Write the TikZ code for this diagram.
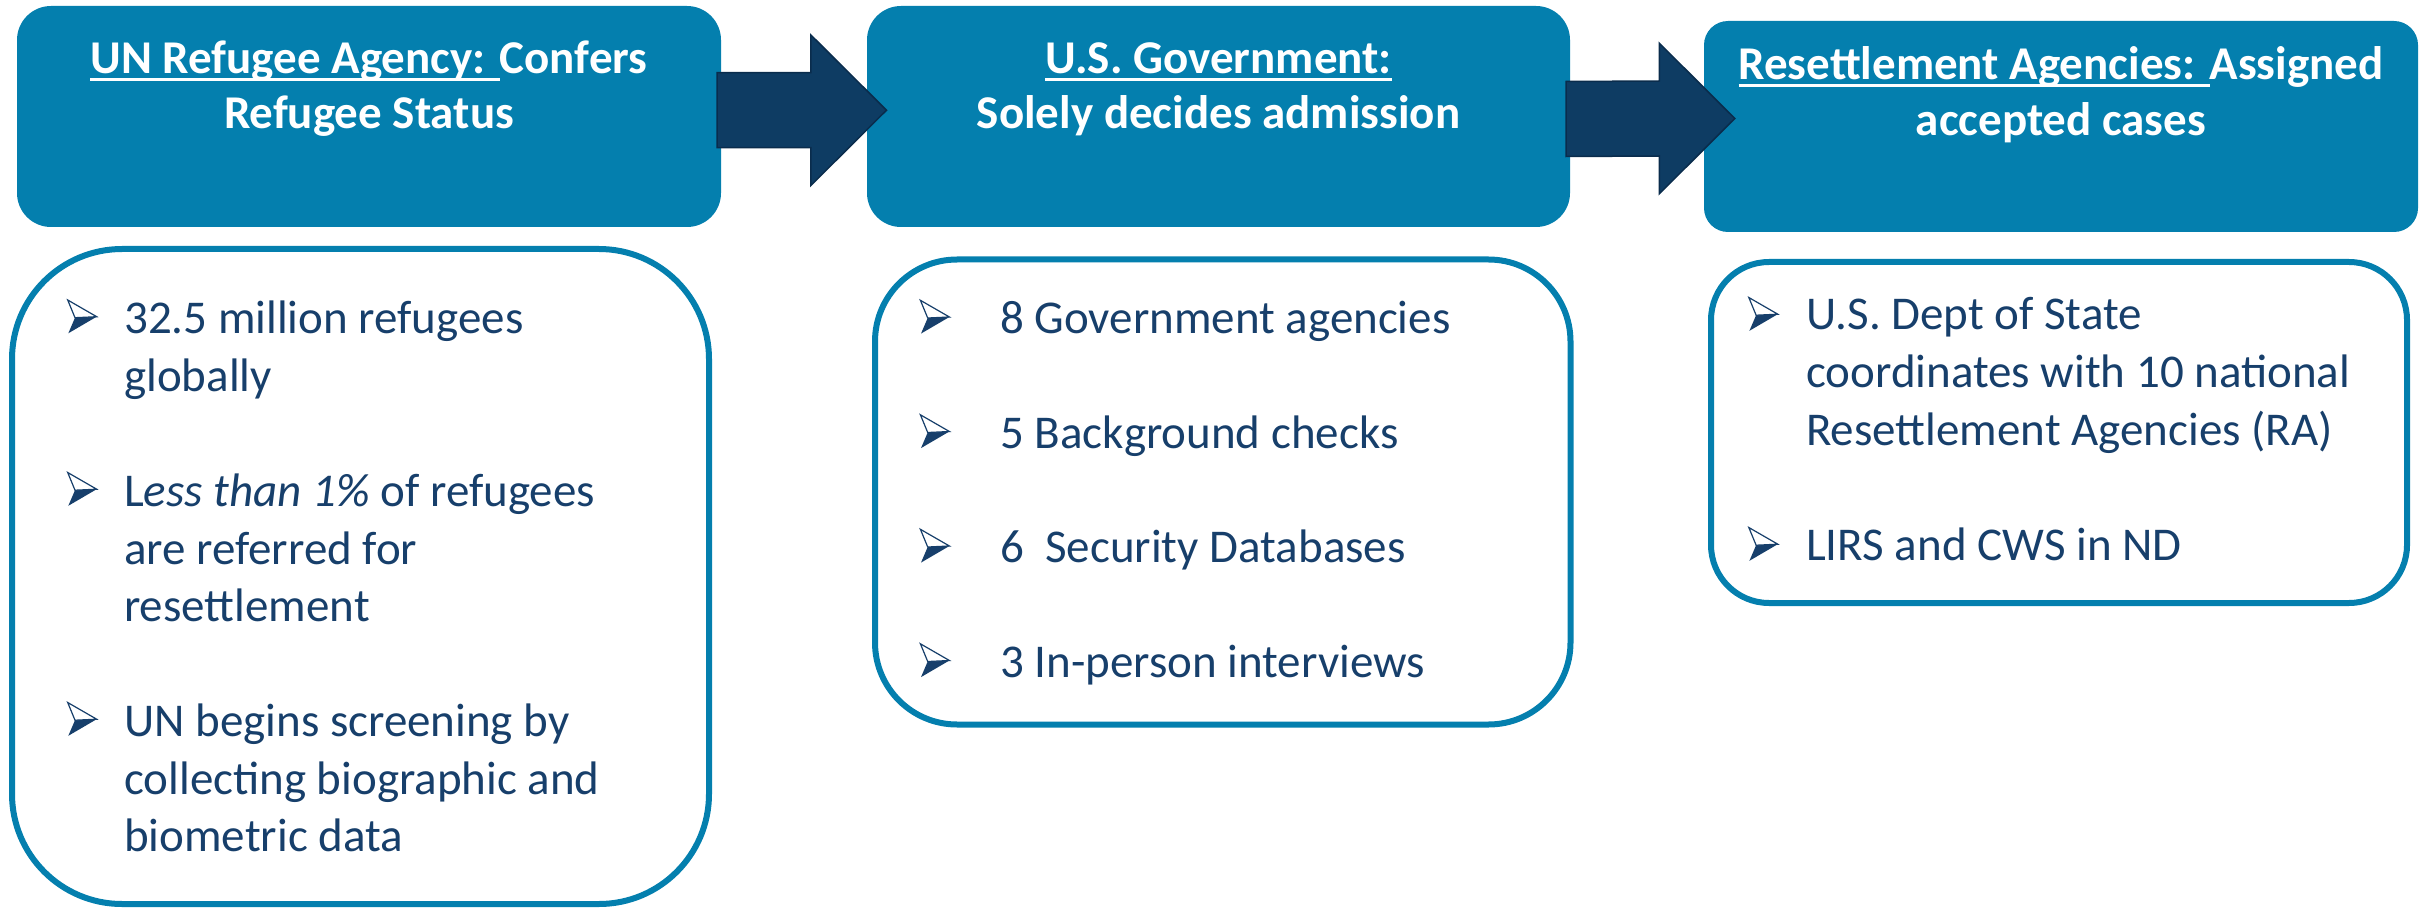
\documentclass[tikz,border=0pt]{standalone}
\usepackage{fontspec}
\setmainfont{Carlito}
\usetikzlibrary{calc}
\definecolor{hdrblue}{RGB}{4,127,174}
\definecolor{navy}{RGB}{14,60,99}
\definecolor{navyedge}{RGB}{10,44,76}
\definecolor{txtnavy}{RGB}{23,63,107}
\newsavebox\myulbox
\newcommand\myul[1]{\sbox\myulbox{#1}\rlap{\rule[-7.5pt]{\wd\myulbox}{3pt}}\usebox\myulbox}
\begin{document}
\begin{tikzpicture}[x=1pt,y=-1pt,
  header/.style={fill=hdrblue, draw=none, inner sep=0pt},
  bodybox/.style={draw=hdrblue, line width=6pt, fill=white, inner sep=0pt},
  htext/.style={text=white, font=\fontsize{47}{55}\selectfont\bfseries, inner sep=0pt, anchor=base},
  btext/.style={text=txtnavy, font=\fontsize{47}{57.5}\selectfont, inner sep=0pt, anchor=base west},
  blockarrow/.style={fill=navy, draw=navyedge, line width=1.5pt, line join=miter},
  bul/.pic={
    \fill[txtnavy] (7.3,17.7) -- (29,16.7) -- (0.6,33.3) -- cycle;
    \draw[txtnavy, line width=1.2pt, fill=white, line join=miter] (0,0) -- (29,16.7) -- (7.3,17.7) -- cycle;
  }]
\useasboundingbox (0,0) rectangle (2428,909);

% header boxes
\node[header, rounded corners=34pt, minimum width=704pt, minimum height=221pt] (h1) at (369,116.5) {};
\node[header, rounded corners=34pt, minimum width=703pt, minimum height=221pt] (h2) at (1218.5,116.5) {};
\node[header, rounded corners=24pt, minimum width=714pt, minimum height=211pt] (h3) at (2061,126.5) {};

% body boxes
\node[bodybox, rounded corners=110pt, minimum width=697pt, minimum height=655pt] (b1) at (360.5,576.5) {};
\node[bodybox, rounded corners=82pt, minimum width=695.5pt, minimum height=465pt] (b2) at (1222.75,492) {};
\node[bodybox, rounded corners=58pt, minimum width=696pt, minimum height=341pt] (b3) at (2059,432.5) {};

% header texts
\node[htext] (h1a) at (369,74) {\myul{UN Refugee Agency: }Confers};
\node[htext] (h1b) at (369,129) {Refugee Status};
\node[htext] (h2a) at (1218.5,74) {\myul{U.S. Government:}};
\node[htext] (h2b) at (1218.5,129) {Solely decides admission};
\node[htext] (h3a) at (2061,80) {\myul{Resettlement Agencies: }Assigned};
\node[htext] (h3b) at (2061,136) {accepted cases};

% body 1 texts
\node[btext] (t1a) at (124,334) {32.5 million refugees};
\node[btext] (t1b) at (124,391.5) {globally};
\node[btext] (t1c) at (124,506.5) {L\textit{ess than 1\%} of refugees};
\node[btext] (t1d) at (124,564) {are referred for};
\node[btext] (t1e) at (124,621.5) {resettlement};
\node[btext] (t1f) at (124,736.5) {UN begins screening by};
\node[btext] (t1g) at (124,794) {collecting biographic and};
\node[btext] (t1h) at (124,851.5) {biometric data};
\pic at (67.7,300) {bul};
\pic at (67.7,472.5) {bul};
\pic at (67.7,702.5) {bul};

% body 2 texts
\node[btext] (t2a) at (1000,333.5) {8 Government agencies};
\node[btext] (t2b) at (1000,448) {5 Background checks};
\node[btext] (t2c) at (1000,562.5) {6\ \ Security Databases};
\node[btext] (t2d) at (1000,677) {3 In-person interviews};
\pic at (920.4,300.3) {bul};
\pic at (920.4,414.8) {bul};
\pic at (920.4,529.3) {bul};
\pic at (920.4,643.8) {bul};

% body 3 texts
\node[btext] (t3a) at (1806,330) {U.S. Dept of State};
\node[btext] (t3b) at (1806,387.5) {coordinates with 10 national};
\node[btext] (t3c) at (1806,445) {Resettlement Agencies (RA)};
\node[btext] (t3d) at (1806,560) {LIRS and CWS in ND};
\pic at (1748.8,297.5) {bul};
\pic at (1748.8,527.5) {bul};

% block arrows
\coordinate (a1s) at ([xshift=-4pt,yshift=6.3pt]h1.east);
\coordinate (a1t) at ([xshift=19.7pt,yshift=6.3pt]h2.west);
\coordinate (a2s) at ([xshift=-4pt,yshift=-2.5pt]h2.east);
\coordinate (a2t) at ([xshift=31pt,yshift=8pt]h3.west);
\draw[blockarrow] ($(a1s)+(0,-37.5)$) -- ($(a1t)+(-75.7,-37.5)$) -- ($(a1t)+(-75.7,-75.3)$) -- (a1t)
  -- ($(a1t)+(-75.7,75.3)$) -- ($(a1t)+(-75.7,37.5)$) -- ($(a1s)+(0,37.5)$) -- cycle;
\draw[blockarrow] ($(a2s)+(0,-37.5)$) -- ($(a2t)+(-75.5,-37.5)$) -- ($(a2t)+(-75.5,-75.3)$) -- (a2t)
  -- ($(a2t)+(-75.5,75.3)$) -- ($(a2t)+(-75.5,37.5)$) -- ($(a2s)+(0,37.5)$) -- cycle;
\end{tikzpicture}
\end{document}
